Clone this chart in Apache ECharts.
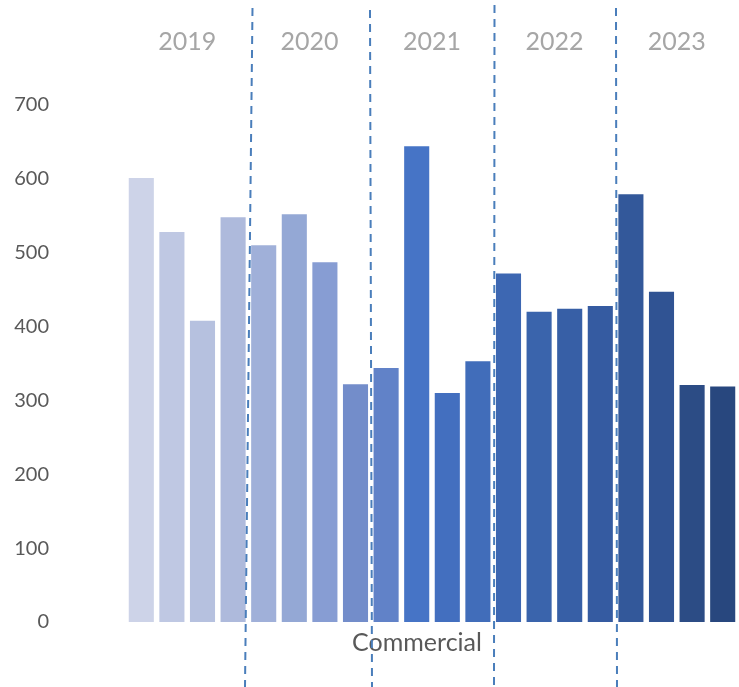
<!DOCTYPE html>
<html><head><meta charset="utf-8">
<script src="https://cdn.jsdelivr.net/npm/echarts@6/dist/echarts.min.js"></script>
<style>html,body{margin:0;padding:0;background:#fff}#c{width:739px;height:687px}</style>
</head><body><div id="c"></div>
<script>
const quarters = ['2019 Q1','2019 Q2','2019 Q3','2019 Q4','2020 Q1','2020 Q2','2020 Q3','2020 Q4','2021 Q1','2021 Q2','2021 Q3','2021 Q4','2022 Q1','2022 Q2','2022 Q3','2022 Q4','2023 Q1','2023 Q2','2023 Q3','2023 Q4'];
const values = [601, 528, 408, 548, 510, 552, 487, 322, 344, 644, 310, 353, 472, 420, 424, 428, 579, 447, 321, 319];
const years = ['2019','2020','2021','2022','2023'];
const barColors = ['#CDD3E8','#BFC8E3','#B6C1DF','#AEBADC','#A0B0D9','#94A8D5','#879DD3','#738DCA','#6182C8','#4674C6','#436FBF','#416DBA','#3D67B2','#3A64AC','#375FA6','#355BA1','#33589A','#305393','#2C4C85','#28477E'];
const yTicks = [0,100,200,300,400,500,600,700];
const axisTitle = 'Commercial';

const chart = echarts.init(document.getElementById('c'));
const font = 'Lato, "Open Sans", sans-serif';
const divider = (x1,y1,x2,y2) => ({type:'line', shape:{x1,y1,x2,y2}, style:{stroke:'#4A7EBB', lineWidth:2, lineDash:[8,6]}, z:10});
chart.setOption({
  animation:false,
  grid:{left:126, right:1, top:105, bottom:65},
  xAxis:[
    {type:'category', data:quarters, axisLine:{show:false}, axisTick:{show:false}, axisLabel:{show:false},
     name:axisTitle, nameLocation:'middle', nameGap:8, nameTextStyle:{color:'#595959', fontSize:25, fontFamily:font, verticalAlign:'top', padding:[0,30,0,0]}},
    {type:'category', data:years, position:'top', axisLine:{show:false}, axisTick:{show:false},
     axisLabel:{color:'#A6A6A6', fontSize:25, fontFamily:font, margin:51}}
  ],
  yAxis:{type:'value', min:0, max:700, interval:100, splitLine:{show:false},
    axisLabel:{color:'#595959', fontSize:20, fontFamily:font, margin:77,
      formatter:v=>yTicks.includes(v)?String(v):''}},
  series:[{type:'bar', data:values.map((v,i)=>({value:v, itemStyle:{color:barColors[i]}})), barCategoryGap:'18%'}],
  graphic:[divider(252.5,8,245,687), divider(370,10,372,687), divider(494.5,5,494,687), divider(616,8,617,687)]
});
</script></body></html>
